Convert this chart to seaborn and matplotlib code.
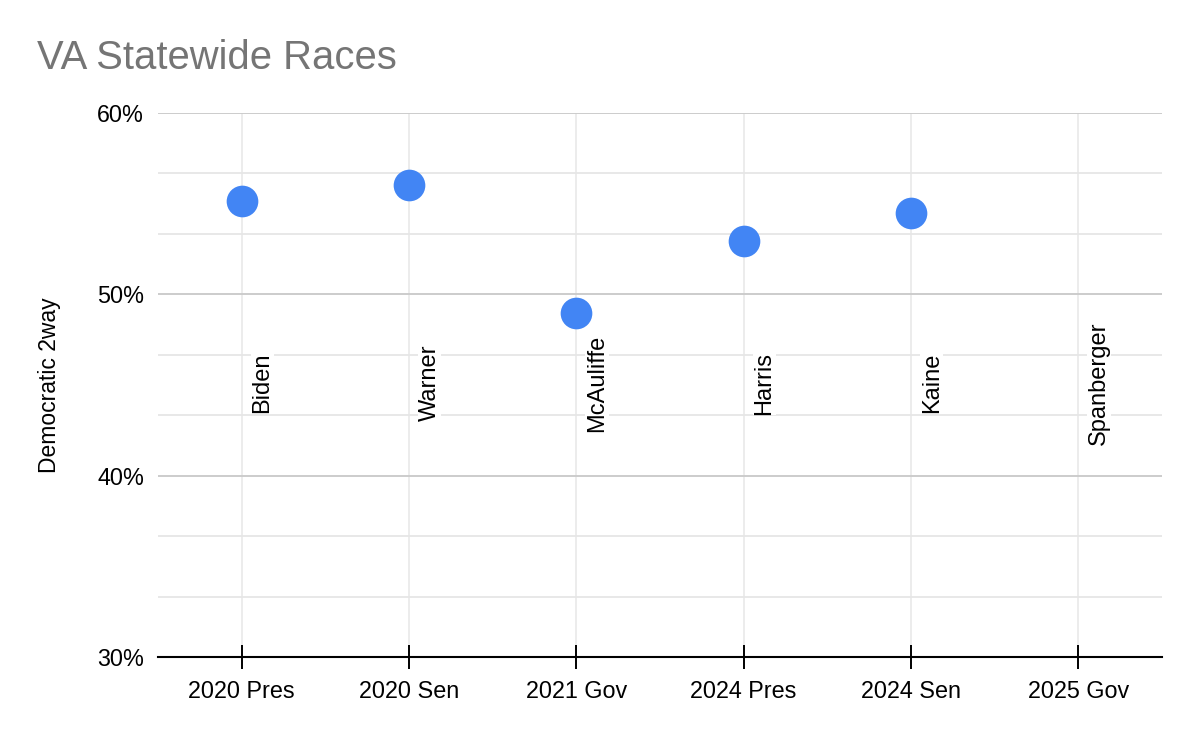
import matplotlib
matplotlib.use("Agg")
import matplotlib.pyplot as plt
import numpy as np
import pandas as pd
import seaborn as sns
from matplotlib.ticker import FixedLocator, FuncFormatter

races = ["2020 Pres", "2020 Sen", "2021 Gov", "2024 Pres", "2024 Sen", "2025 Gov"]
candidates = ["Biden", "Warner", "McAuliffe", "Harris", "Kaine", "Spanberger"]
dem_share = [55.15, 56.03, 48.97, 52.94, 54.48, np.nan]

LABEL_Y = 45.1
BLUE = "#4285F4"

sns.set_theme(style="white")
plt.rcParams["font.family"] = ["Liberation Sans", "DejaVu Sans"]

df = pd.DataFrame({"race": races, "candidate": candidates, "share": dem_share})

fig = plt.figure(figsize=(12, 7.42), dpi=100)
ax = fig.add_axes([158 / 1200, 1 - 657 / 742, (1162 - 158) / 1200, (657 - 113) / 742])

sns.stripplot(
    data=df, x="race", y="share", order=races, jitter=False,
    size=22.8, color=BLUE, linewidth=0, ax=ax, zorder=4,
)

ax.set_xlim(-0.5, len(races) - 0.5)
ax.set_ylim(30, 60)

# grid
ax.yaxis.set_major_locator(FixedLocator([30, 40, 50, 60]))
ax.yaxis.set_minor_locator(FixedLocator([30 + 10 * i / 3 for i in range(10) if i % 3]))
ax.yaxis.set_major_formatter(FuncFormatter(lambda v, _: f"{v:.0f}%"))
ax.grid(axis="y", which="major", color="#cccccc", linewidth=1.4, zorder=0)
ax.grid(axis="y", which="minor", color="#e6e6e6", linewidth=1.3, zorder=0)
ax.grid(axis="x", which="major", color="#ebebeb", linewidth=1.3, zorder=0)
ax.set_axisbelow(True)

for side in ["top", "right", "left"]:
    ax.spines[side].set_visible(False)
ax.spines["bottom"].set_color("black")
ax.spines["bottom"].set_linewidth(1.5)
ax.spines["bottom"].set_zorder(3)

ax.tick_params(axis="x", which="major", bottom=True, direction="inout", length=17, width=1.4,
               color="black", labelsize=16.8, pad=8, labelcolor="black")
ax.tick_params(axis="y", which="both", left=False, length=0, labelsize=16.8, pad=10,
               labelcolor="black")

ax.set_xlabel("")
ax.set_ylabel("Democratic 2way", fontsize=16.5, color="black", labelpad=26)

# data labels
for i, name in enumerate(candidates):
    ax.annotate(
        name, xy=(i, LABEL_Y), xytext=(7, 0), textcoords="offset points",
        rotation=90, ha="left", va="center", fontsize=17, color="black",
        bbox=dict(facecolor="white", edgecolor="none", pad=0.5), zorder=5,
    )

fig.text(37 / 1200, 1 - 39 / 742, "VA Statewide Races", fontsize=28.8,
         color="#757575", ha="left", va="top")

fig.savefig("out.png", dpi=100)
